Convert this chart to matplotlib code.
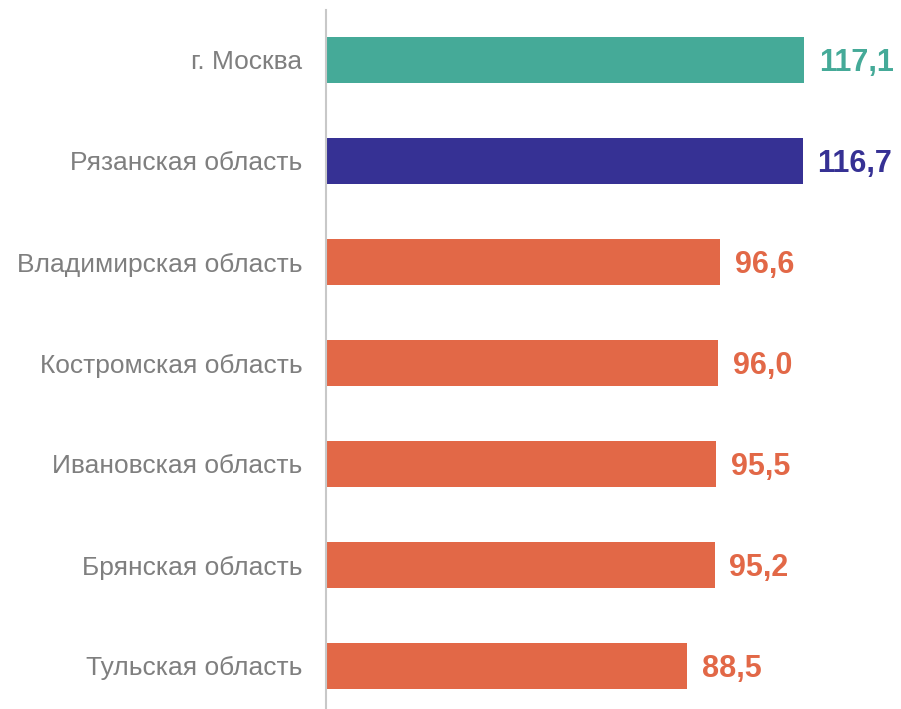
import matplotlib.pyplot as plt

plt.rcParams['font.family'] = ['Liberation Sans', 'DejaVu Sans']

regions = ['г. Москва', 'Рязанская область', 'Владимирская область',
           'Костромская область', 'Ивановская область', 'Брянская область',
           'Тульская область']
values = [117.1, 116.7, 96.6, 96.0, 95.5, 95.2, 88.5]
labels = ['117,1', '116,7', '96,6', '96,0', '95,5', '95,2', '88,5']
colors = ['#45aa98', '#363194', '#e26847', '#e26847', '#e26847', '#e26847', '#e26847']

fig = plt.figure(figsize=(9.01, 7.09), dpi=100)
ax = fig.add_axes([326/901, 0, 575/901, 699/709])

y = list(range(len(regions)))
ax.barh(y, values, height=0.455, color=colors)
for yi, v, lab, c in zip(y, values, labels, colors):
    ax.text(v + 3.6, yi + 0.03, lab, va='center', ha='left', fontsize=22,
            fontweight='bold', color=c)

ax.set_xlim(0, 140.8)
ax.set_ylim(6.426, -0.495)
ax.set_yticks(y)
ax.set_yticklabels(regions, fontsize=19, color='#7f7f7f')
ax.tick_params(axis='y', length=0, pad=17)
ax.set_xticks([])
for s in ['top', 'right', 'bottom']:
    ax.spines[s].set_visible(False)
ax.spines['left'].set_color('#c8c8c8')
ax.spines['left'].set_linewidth(1.5)

fig.savefig('out.png', dpi=100)
